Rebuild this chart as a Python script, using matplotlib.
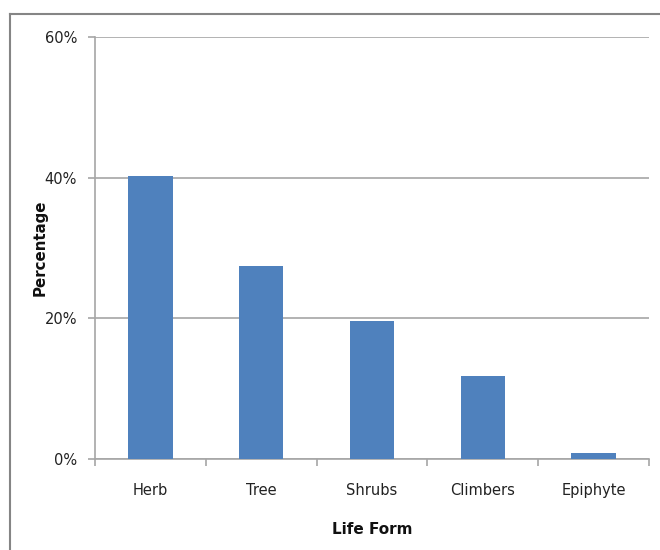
import matplotlib
matplotlib.use("Agg")
import matplotlib.pyplot as plt
from matplotlib.lines import Line2D
from matplotlib.ticker import FuncFormatter

life_forms = ["Herb", "Tree", "Shrubs", "Climbers", "Epiphyte"]
percentages = [40.2, 27.5, 19.6, 11.8, 0.9]
y_ticks = [0, 20, 40, 60]

narrow = ["Liberation Sans Narrow", "DejaVu Sans"]
bar_color = "#4F81BD"
grid_color = "#A6A6A6"

fig = plt.figure(figsize=(6.6, 5.5), dpi=100)
fig.patch.set_facecolor("white")

W, H = 660, 550
ax = fig.add_axes([95 / W, 1 - 459 / H, (649 - 95) / W, (459 - 37) / H])

x = range(len(life_forms))
ax.bar(x, percentages, width=0.4, color=bar_color, zorder=3)

ax.set_xlim(-0.5, len(life_forms) - 0.5)
ax.set_ylim(0, 60)
ax.set_yticks(y_ticks)
ax.yaxis.set_major_formatter(FuncFormatter(lambda v, p: f"{v:.0f}%"))
ax.yaxis.grid(True, color=grid_color, linewidth=1.2, zorder=0)

# category labels centred, tick marks on the category boundaries
ax.set_xticks(list(x))
ax.set_xticklabels(life_forms, family=narrow, fontsize=10.5, color="#222222")
ax.tick_params(axis="x", length=0, pad=17)
ax.set_xticks([i - 0.5 for i in range(len(life_forms) + 1)], minor=True)
ax.tick_params(axis="x", which="minor", length=5, color=grid_color, width=1.2)

ax.tick_params(axis="y", length=5, color=grid_color, width=1.2, pad=8,
               labelsize=10.5, labelcolor="#222222")
for lbl in ax.get_yticklabels():
    lbl.set_family(narrow)

for side in ("top", "right"):
    ax.spines[side].set_visible(False)
for side in ("left", "bottom"):
    ax.spines[side].set_color(grid_color)
    ax.spines[side].set_linewidth(1.2)

fig.text(372 / W, 1 - 529 / H, "Life Form", ha="center", va="center",
         family=narrow, fontweight="bold", fontsize=11, color="#111111")
fig.text(40 / W, 1 - 248 / H, "Percentage", ha="center", va="center",
         rotation=90, family="DejaVu Sans", fontweight="bold", fontsize=10.8,
         color="#111111")

# outer chart border (top and left edges)
frame_color = "#858585"
fig.add_artist(Line2D([9.5 / W, 1.0], [1 - 13.5 / H, 1 - 13.5 / H],
                      transform=fig.transFigure, color=frame_color, linewidth=1.5))
fig.add_artist(Line2D([9.5 / W, 9.5 / W], [0.0, 1 - 13.5 / H],
                      transform=fig.transFigure, color=frame_color, linewidth=1.5))

fig.savefig("out.png", dpi=100)
